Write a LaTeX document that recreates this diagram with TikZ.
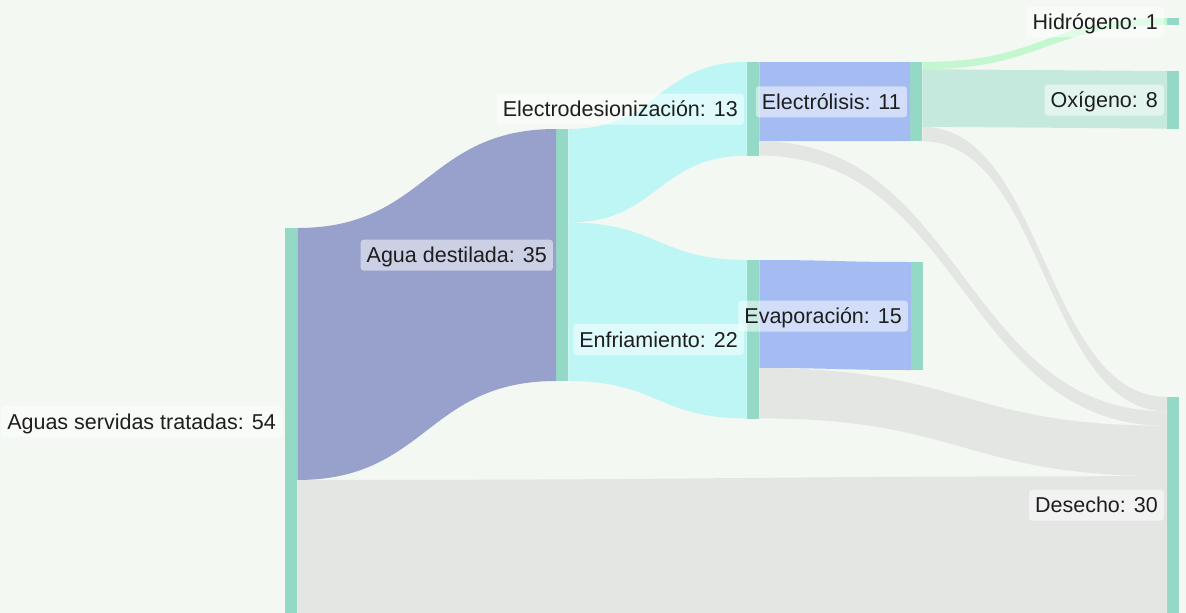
\documentclass[tikz,border=0pt]{standalone}
\usepackage{fontspec}
\setmainfont{Liberation Sans}
\usetikzlibrary{calc}
\definecolor{bgcol}{HTML}{F3F8F2}
\definecolor{barcol}{HTML}{93D9C6}
\definecolor{purplecol}{HTML}{98A1CB}
\definecolor{greycol}{HTML}{E4E6E3}
\definecolor{cyancol}{HTML}{BEF5F5}
\definecolor{bluecol}{HTML}{A5BCF3}
\definecolor{h2col}{HTML}{C2F7CF}
\definecolor{o2col}{HTML}{C6E9DD}
\definecolor{txtcol}{HTML}{1E1E1E}
% \flow{src}{src top off}{src bot off}{dst}{dst top off}{dst bot off}{colour}
\newcommand\flow[7]{%
  \fill[#7] let \p1=(#1.north east), \p2=(#4.north west) in
    (\x1,\y1-#2pt) .. controls ({(\x1+\x2)/2},\y1-#2pt) and ({(\x1+\x2)/2},\y2-#5pt) .. (\x2,\y2-#5pt)
    -- (\x2,\y2-#6pt) .. controls ({(\x1+\x2)/2},\y2-#6pt) and ({(\x1+\x2)/2},\y1-#3pt) .. (\x1,\y1-#3pt) -- cycle;}
\begin{document}
\begin{tikzpicture}[x=1pt,y=-1pt,
  bar/.style={fill=barcol,draw=none,minimum width=12pt,inner sep=0pt,anchor=north west},
  lbl/.style={anchor=east,fill=white,fill opacity=0.5,text opacity=1,rounded corners=3pt,
    inner xsep=6pt,inner ysep=5.5pt,text height=17.7pt,text depth=2.3pt,
    font=\fontsize{21.5}{26}\selectfont,text=txtcol}]
\fill[bgcol] (0,0) rectangle (1186,613);
\useasboundingbox (0,0) rectangle (1186,613);
% node bars
\node[bar,minimum height=385pt] (aguas) at (285,228) {};
\node[bar,minimum height=252pt] (dest) at (556,129) {};
\node[bar,minimum height=93.6pt] (edi) at (747,62) {};
\node[bar,minimum height=158.4pt] (enf) at (747,260) {};
\node[bar,minimum height=79.2pt] (elec) at (910,62) {};
\node[bar,minimum height=108pt] (evap) at (911,262) {};
\node[bar,minimum height=7.2pt] (hid) at (1167,18) {};
\node[bar,minimum height=57.6pt] (oxi) at (1167,71) {};
\node[bar,minimum height=216pt] (des) at (1167,397) {};
% flows
\flow{aguas}{0}{252}{dest}{0}{252}{purplecol}
\flow{aguas}{252}{385}{des}{79.2}{216}{greycol}
\flow{dest}{0}{93.6}{edi}{0}{93.6}{cyancol}
\flow{dest}{93.6}{252}{enf}{0}{158.4}{cyancol}
\flow{edi}{0}{79.2}{elec}{0}{79.2}{bluecol}
\flow{edi}{79.2}{93.6}{des}{14.4}{28.8}{greycol}
\flow{enf}{0}{108}{evap}{0}{108}{bluecol}
\flow{enf}{108}{158.4}{des}{28.8}{79.2}{greycol}
\flow{elec}{0}{7.2}{hid}{0}{7.2}{h2col}
\flow{elec}{7.2}{64.8}{oxi}{0}{57.6}{o2col}
\flow{elec}{64.8}{79.2}{des}{0}{14.4}{greycol}
% labels
\node[lbl] (laguas) at ([xshift=-3pt,yshift=-1pt]aguas.west) {Aguas servidas tratadas: 54};
\node[lbl] (ldest) at ([xshift=-3pt]dest.west) {Agua destilada: 35};
\node[lbl] (ledi) at ([xshift=-3pt]edi.west) {Electrodesionización: 13};
\node[lbl] (lenf) at ([xshift=-3pt]enf.west) {Enfriamiento: 22};
\node[lbl] (lelec) at ([xshift=-3pt]elec.west) {Electrólisis: 11};
\node[lbl] (levap) at ([xshift=-3pt]evap.west) {Evaporación: 15};
\node[lbl] (lhid) at ([xshift=-3pt]hid.west) {Hidrógeno: 1};
\node[lbl] (loxi) at ([xshift=-3pt]oxi.west) {Oxígeno: 8};
\node[lbl] (ldes) at ([xshift=-3pt]des.west) {Desecho: 30};
\end{tikzpicture}
\end{document}
